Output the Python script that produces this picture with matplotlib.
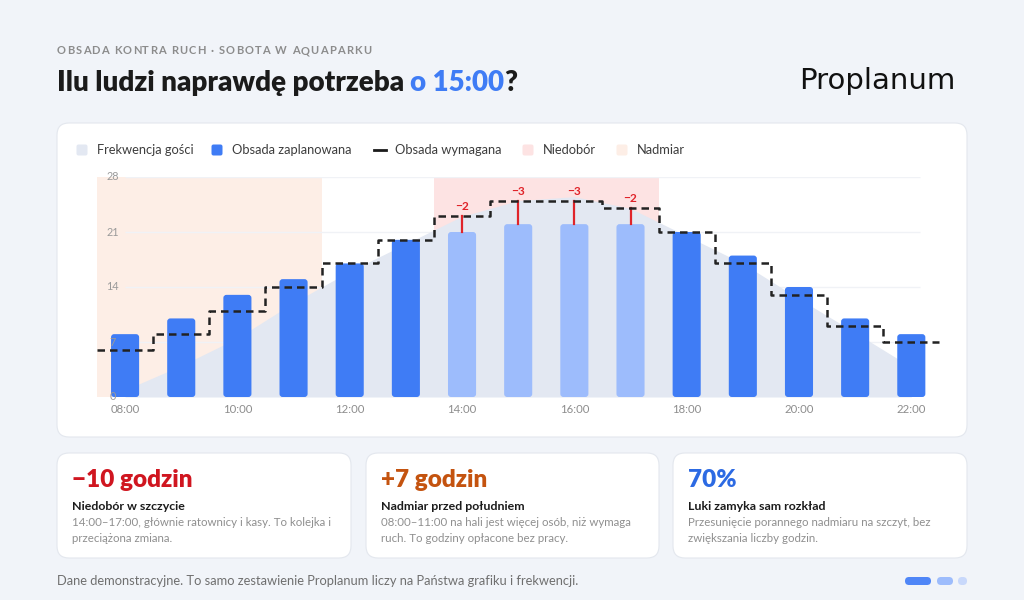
import numpy as np
import matplotlib
matplotlib.use("Agg")
import matplotlib.pyplot as plt
from matplotlib.patches import FancyBboxPatch

plt.rcParams["font.family"] = ["Lato", "DejaVu Sans"]

# =========================
# Dane
# =========================
hours = [8, 9, 10, 11, 12, 13, 14, 15, 16, 17, 18, 19, 20, 21, 22]
hour_labels = ["08:00", "10:00", "12:00", "14:00", "16:00", "18:00", "20:00", "22:00"]
planned = [8, 10, 13, 15, 17, 20, 21, 22, 22, 22, 21, 18, 14, 10, 8]
required = [6, 8, 11, 14, 17, 20, 23, 25, 25, 24, 21, 17, 13, 9, 7]
# frekwencja przeskalowana do jednostek obsady
visitors = [0.9, 4.0, 7.5, 12.0, 16.0, 19.5, 23.0, 25.0, 25.5, 24.0, 20.5, 17.0, 12.5, 8.2, 3.8]
surplus_span = (7.5, 11.5)
shortage_span = (13.5, 17.5)
y_ticks = [0, 7, 14, 21, 28]

# kolory
BG = "#f1f4f9"
BLUE = "#3f7cf5"
BLUE_LIGHT = "#9dbcfc"
AREA = "#e3e8f2"
RED = "#e0242a"
PEACH = "#fdeee6"
PINK = "#fde3e3"
DARK = "#1b1b1b"

W, H = 1024, 600
fig = plt.figure(figsize=(W / 100, H / 100), dpi=100, facecolor=BG)

# warstwa do rysowania w pikselach (karty, nagłówek)
bg = fig.add_axes([0, 0, 1, 1])
bg.set_xlim(0, W)
bg.set_ylim(H, 0)
bg.axis("off")
renderer = fig.canvas.get_renderer()


def text_width(s, **kw):
    t = bg.text(0, 0, s, **kw)
    w = t.get_window_extent(renderer).width
    t.remove()
    return w


def tracked_text(x, y, s, target_w, **kw):
    # tekst z rozstrzeleniem liter, dopasowany do szerokości
    natural = text_width(s, **kw)
    track = (target_w - natural) / (len(s) - 1)
    for i, ch in enumerate(s):
        xi = x + (text_width(s[:i] + "|", **kw) - text_width("|", **kw) if i else 0) + i * track
        bg.text(xi, y, ch, va="center", ha="left", **kw)


def card(x0, y0, x1, y1):
    bg.add_patch(FancyBboxPatch((x0, y0), x1 - x0, y1 - y0,
                                boxstyle="round,pad=0,rounding_size=12",
                                fc="white", ec="#e3e7ee", lw=0.8))


card(57, 123, 967, 437)
card(57, 453, 351, 558)
card(366, 453, 659, 558)
card(673, 453, 967, 558)

# nagłówek
tracked_text(57, 51, "OBSADA KONTRA RUCH · SOBOTA W AQUAPARKU", 314,
             fontsize=8, color="#8c8c8c", fontweight="bold")
t1 = bg.text(57, 83, "Ilu ludzi naprawdę potrzeba ", fontsize=20,
             color=DARK, fontweight="heavy", va="center", ha="left")
x_px = t1.get_window_extent(renderer).x1
t2 = bg.text(x_px, 83, "o 15:00", fontsize=20, color=BLUE,
             fontweight="heavy", va="center", ha="left")
bg.text(t2.get_window_extent(renderer).x1, 83, "?", fontsize=20, color=DARK,
        fontweight="heavy", va="center", ha="left")

bg.text(955, 81, "Proplanum", fontsize=21, color="#111111",
        family="DejaVu Sans", va="center", ha="right")

# legenda
leg_y = 150
items = [
    (82, "square", AREA, "Frekwencja gości"),
    (217, "square", BLUE, "Obsada zaplanowana"),
    (380, "line", DARK, "Obsada wymagana"),
    (528, "square", PINK, "Niedobór"),
    (622, "square", PEACH, "Nadmiar"),
]
for x, kind, col, label in items:
    if kind == "square":
        bg.add_patch(FancyBboxPatch((x - 5.5, leg_y - 5.5), 11, 11,
                                    boxstyle="round,pad=0,rounding_size=2",
                                    fc=col, ec="none"))
    else:
        bg.plot([x - 6, x + 6], [leg_y, leg_y], color=col, lw=2)
    bg.text(x + 15, leg_y, label, fontsize=9.3, color="#3d3d3d",
            va="center", ha="left")

# =========================
# Wykres
# =========================
ax_l, ax_r, ax_t, ax_b = 97, 945, 177, 397
ax = fig.add_axes([ax_l / W, 1 - ax_b / H, (ax_r - ax_l) / W, (ax_b - ax_t) / H])
ax.set_facecolor("none")
ax.set_xlim(7.5, 22.6)
ax.set_ylim(0, 28)
for s in ax.spines.values():
    s.set_visible(False)
ax.tick_params(length=0)
ax.set_yticks([])

ax.axvspan(*surplus_span, color=PEACH, lw=0, zorder=0)
ax.axvspan(*shortage_span, color=PINK, lw=0, zorder=0)
ax.hlines(y_ticks[1:], 8, 22.15, color="#f0f2f6", lw=1, zorder=0.5)

ax.fill_between(hours, visitors, 0, color=AREA, lw=0, zorder=1)

px_per_x = (ax_r - ax_l) / (22.6 - 7.5)
px_per_y = (ax_b - ax_t) / 28
bar_w = 0.5
for h, p, r in zip(hours, planned, required):
    col = BLUE_LIGHT if r > p else BLUE
    ax.add_patch(FancyBboxPatch((h - bar_w / 2, 0), bar_w, p,
                                boxstyle="round,pad=0,rounding_size=0.055",
                                mutation_aspect=px_per_x / px_per_y,
                                fc=col, ec="none", zorder=2))
    if r > p:
        ax.plot([h, h], [p, r], color=RED, lw=1.6, zorder=3)
        ax.text(h, r + 0.5, f"\u2212{r - p}", color=RED, fontsize=8.6,
                fontweight="bold", ha="center", va="bottom", zorder=4)

ax.step([7.5] + hours + [22.5], [required[0]] + required + [required[-1]],
        where="mid", color="#222222", lw=1.8, ls=(0, (3, 2)), zorder=3)

for yt in y_ticks:
    ax.text(8.0 - 0.22, yt, str(yt), fontsize=7.8, color="#9a9a9a",
            ha="center", va="center", zorder=5)

ax.set_xticks(hours[::2])
ax.set_xticklabels(hour_labels, fontsize=8.2, color="#8d8d8d")
ax.tick_params(axis="x", pad=5)

# =========================
# Karty
# =========================
cards = [
    (72, "\u221210 godzin", "#d01620", "Niedobór w szczycie",
     ["14:00–17:00, głównie ratownicy i kasy. To kolejka i", "przeciążona zmiana."]),
    (381, "+7 godzin", "#c4530f", "Nadmiar przed południem",
     ["08:00–11:00 na hali jest więcej osób, niż wymaga", "ruch. To godziny opłacone bez pracy."]),
    (688, "70%", "#2c6ae3", "Luki zamyka sam rozkład",
     ["Przesunięcie porannego nadmiaru na szczyt, bez", "zwiększania liczby godzin."]),
]
for x, big, col, head, body in cards:
    bg.text(x, 480, big, fontsize=17.5, color=col, fontweight="heavy",
            va="center", ha="left")
    bg.text(x, 506, head, fontsize=8.9, color=DARK, fontweight="bold",
            va="center", ha="left")
    for i, line in enumerate(body):
        bg.text(x, 523 + i * 16, line, fontsize=8.3, color="#8f8f8f",
                va="center", ha="left")

# stopka
bg.text(57, 581, "Dane demonstracyjne. To samo zestawienie Proplanum liczy na Państwa grafiku i frekwencji.",
        fontsize=9.3, color="#6f6f6f", va="center", ha="left")
for x0, x1, col in [(905, 931, "#4f86f7"), (937, 953, "#9dbcfc"), (958, 967, "#c8d8fb")]:
    bg.add_patch(FancyBboxPatch((x0, 577), x1 - x0, 8,
                                boxstyle="round,pad=0,rounding_size=4",
                                fc=col, ec="none"))

fig.savefig("out.png", dpi=100, facecolor=BG)
